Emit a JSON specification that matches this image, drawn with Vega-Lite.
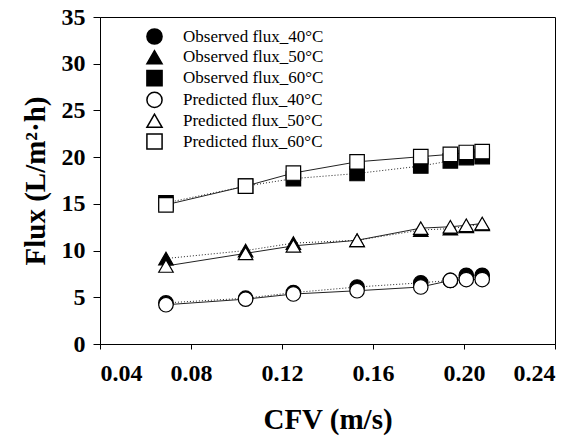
{
  "$schema": "https://vega.github.io/schema/vega-lite/v6.json",
  "width": 455,
  "height": 327,
  "autosize": "none",
  "padding": {"left": 100, "top": 17, "right": 24, "bottom": 93},
  "background": "white",
  "config": {
    "font": "Liberation Serif",
    "view": {"stroke": "black", "strokeWidth": 1},
    "axis": {"grid": false, "domainColor": "black", "tickColor": "black", "labelColor": "black", "titleColor": "black", "labelFont": "Liberation Serif", "titleFont": "Liberation Serif", "labelFontWeight": "bold", "titleFontWeight": "bold"}
  },
  "data": {"values": [
    {"cfv": 0.069, "flux": 4.4, "series": "Observed flux_40°C"},
    {"cfv": 0.104, "flux": 4.9, "series": "Observed flux_40°C"},
    {"cfv": 0.125, "flux": 5.5, "series": "Observed flux_40°C"},
    {"cfv": 0.153, "flux": 6.1, "series": "Observed flux_40°C"},
    {"cfv": 0.181, "flux": 6.55, "series": "Observed flux_40°C"},
    {"cfv": 0.194, "flux": 6.8, "series": "Observed flux_40°C"},
    {"cfv": 0.201, "flux": 7.35, "series": "Observed flux_40°C"},
    {"cfv": 0.208, "flux": 7.35, "series": "Observed flux_40°C"},
    {"cfv": 0.069, "flux": 9.15, "series": "Observed flux_50°C"},
    {"cfv": 0.104, "flux": 10.0, "series": "Observed flux_50°C"},
    {"cfv": 0.125, "flux": 10.8, "series": "Observed flux_50°C"},
    {"cfv": 0.153, "flux": 11.1, "series": "Observed flux_50°C"},
    {"cfv": 0.181, "flux": 12.2, "series": "Observed flux_50°C"},
    {"cfv": 0.194, "flux": 12.35, "series": "Observed flux_50°C"},
    {"cfv": 0.201, "flux": 12.6, "series": "Observed flux_50°C"},
    {"cfv": 0.208, "flux": 12.8, "series": "Observed flux_50°C"},
    {"cfv": 0.069, "flux": 15.1, "series": "Observed flux_60°C"},
    {"cfv": 0.104, "flux": 16.9, "series": "Observed flux_60°C"},
    {"cfv": 0.125, "flux": 17.7, "series": "Observed flux_60°C"},
    {"cfv": 0.153, "flux": 18.25, "series": "Observed flux_60°C"},
    {"cfv": 0.181, "flux": 19.05, "series": "Observed flux_60°C"},
    {"cfv": 0.194, "flux": 19.6, "series": "Observed flux_60°C"},
    {"cfv": 0.201, "flux": 19.95, "series": "Observed flux_60°C"},
    {"cfv": 0.208, "flux": 20.05, "series": "Observed flux_60°C"},
    {"cfv": 0.069, "flux": 4.2, "series": "Predicted flux_40°C"},
    {"cfv": 0.104, "flux": 4.8, "series": "Predicted flux_40°C"},
    {"cfv": 0.125, "flux": 5.35, "series": "Predicted flux_40°C"},
    {"cfv": 0.153, "flux": 5.7, "series": "Predicted flux_40°C"},
    {"cfv": 0.181, "flux": 6.1, "series": "Predicted flux_40°C"},
    {"cfv": 0.194, "flux": 6.8, "series": "Predicted flux_40°C"},
    {"cfv": 0.201, "flux": 6.9, "series": "Predicted flux_40°C"},
    {"cfv": 0.208, "flux": 6.9, "series": "Predicted flux_40°C"},
    {"cfv": 0.069, "flux": 8.35, "series": "Predicted flux_50°C"},
    {"cfv": 0.104, "flux": 9.7, "series": "Predicted flux_50°C"},
    {"cfv": 0.125, "flux": 10.5, "series": "Predicted flux_50°C"},
    {"cfv": 0.153, "flux": 11.1, "series": "Predicted flux_50°C"},
    {"cfv": 0.181, "flux": 12.4, "series": "Predicted flux_50°C"},
    {"cfv": 0.194, "flux": 12.55, "series": "Predicted flux_50°C"},
    {"cfv": 0.201, "flux": 12.7, "series": "Predicted flux_50°C"},
    {"cfv": 0.208, "flux": 12.9, "series": "Predicted flux_50°C"},
    {"cfv": 0.069, "flux": 14.9, "series": "Predicted flux_60°C"},
    {"cfv": 0.104, "flux": 16.9, "series": "Predicted flux_60°C"},
    {"cfv": 0.125, "flux": 18.3, "series": "Predicted flux_60°C"},
    {"cfv": 0.153, "flux": 19.5, "series": "Predicted flux_60°C"},
    {"cfv": 0.181, "flux": 20.05, "series": "Predicted flux_60°C"},
    {"cfv": 0.194, "flux": 20.3, "series": "Predicted flux_60°C"},
    {"cfv": 0.201, "flux": 20.5, "series": "Predicted flux_60°C"},
    {"cfv": 0.208, "flux": 20.6, "series": "Predicted flux_60°C"}
  ]},
  "encoding": {
    "x": {"field": "cfv", "type": "quantitative", "scale": {"domain": [0.04, 0.24], "nice": false, "zero": false},
      "axis": {"values": [0.04, 0.08, 0.12, 0.16, 0.2, 0.24], "format": ".2f", "title": "CFV (m/s)", "labelFontSize": 24, "tickSize": 5, "labelPadding": 12, "titleFontSize": 29, "titlePadding": 20}},
    "y": {"field": "flux", "type": "quantitative", "scale": {"domain": [0, 35], "nice": false},
      "axis": {"values": [0, 5, 10, 15, 20, 25, 30, 35], "title": "Flux (L/m²·h)", "labelFontSize": 24, "tickSize": 7, "labelPadding": 8, "titleFontSize": 29, "titlePadding": 11}}
  },
  "layer": [
    {
      "transform": [{"filter": "indexof(datum.series,'Observed') == 0"}],
      "mark": {"type": "line", "color": "#222", "strokeWidth": 1, "strokeDash": [1, 2]},
      "encoding": {"detail": {"field": "series"}}
    },
    {
      "transform": [{"filter": "indexof(datum.series,'Predicted') == 0"}],
      "mark": {"type": "line", "color": "#222", "strokeWidth": 1},
      "encoding": {"detail": {"field": "series"}}
    },
    {
      "mark": {"type": "point", "filled": true, "stroke": "black", "strokeWidth": 1.2, "size": 210, "opacity": 1},
      "encoding": {
        "shape": {"field": "series", "type": "nominal",
          "scale": {"domain": ["Observed flux_40°C", "Observed flux_50°C", "Observed flux_60°C", "Predicted flux_40°C", "Predicted flux_50°C", "Predicted flux_60°C"],
            "range": ["circle", "triangle-up", "square", "circle", "triangle-up", "square"]},
          "legend": {
            "title": null, "orient": "none", "legendX": 46, "legendY": 11, "padding": 0,
            "symbolSize": 230, "symbolOffset": 0, "labelOffset": 20, "rowPadding": -1.2,
            "labelFont": "Liberation Serif", "labelFontSize": 17, "labelColor": "black", "labelLimit": 300
          }},
        "fill": {"field": "series", "type": "nominal",
          "scale": {"domain": ["Observed flux_40°C", "Observed flux_50°C", "Observed flux_60°C", "Predicted flux_40°C", "Predicted flux_50°C", "Predicted flux_60°C"],
            "range": ["black", "black", "black", "white", "white", "white"]}}
      }
    }
  ]
}
